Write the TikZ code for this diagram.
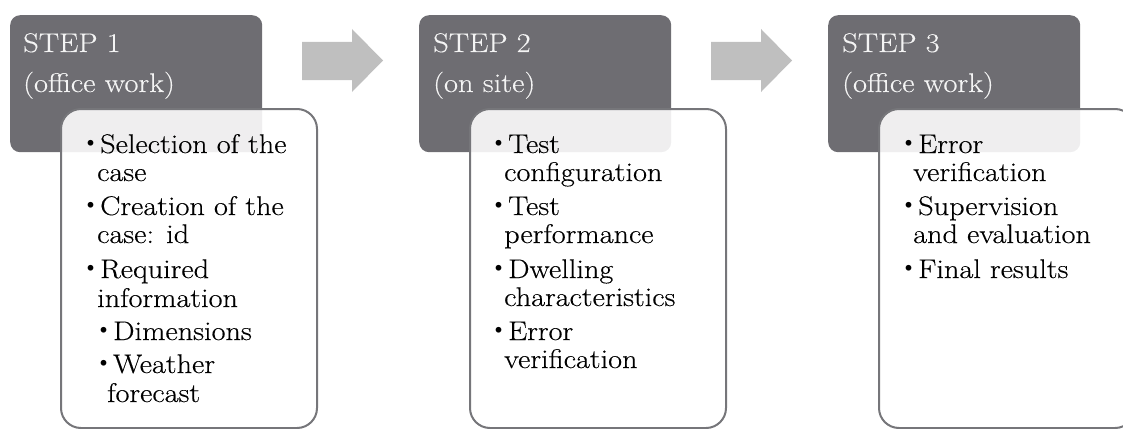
\documentclass[tikz,border=0pt]{standalone}
\usepackage{fontspec}
\setmainfont{Latin Modern Roman}[FakeStretch=1.12, FakeBold=0.3]
\newfontfamily\headfont{Latin Modern Roman}[FakeStretch=1.13, FakeBold=0.25]
\newfontfamily\cjk{Noto Sans CJK JP}
\definecolor{stepdark}{RGB}{110,109,114}
\definecolor{arrowgray}{RGB}{191,191,191}
\definecolor{bordergray}{RGB}{118,118,122}
\definecolor{headtext}{RGB}{244,244,244}
\newcommand\bul{\makebox[19pt][c]{\smash{\cjk ・}}}
\tikzset{
  stephead/.style={fill=stepdark, draw=none, rounded corners=10pt, anchor=north west, minimum width=252pt, minimum height=137pt, inner sep=0pt},
  stepbody/.style={fill=white, fill opacity=0.89, draw=bordergray, line width=2pt, rounded corners=20pt, anchor=north west, minimum width=256pt, minimum height=319pt, inner sep=0pt},
  headtxt/.style={text=headtext, font=\headfont\fontsize{27}{30}\selectfont, anchor=base west, inner sep=0pt},
  bodytxt/.style={text=black, font=\fontsize{27}{30}\selectfont, anchor=base west, inner sep=0pt},
  blockarrow/.style={fill=arrowgray, draw=none}
}
\begin{document}
\begin{tikzpicture}[x=1pt,y=-1pt]
\useasboundingbox (0,0) rectangle (1123,428);
\clip (0,0) rectangle (1123,428);
% block arrows
\fill[blockarrow] (302,42) -- (352,42) -- (352,29) -- (383,60.5) -- (352,92) -- (352,80) -- (302,80) -- cycle;
\fill[blockarrow] (711,42) -- (761,42) -- (761,29) -- (792,60.5) -- (761,92) -- (761,80) -- (711,80) -- cycle;
% step headers
\node[stephead] (h1) at (10,15) {};
\node[stephead] (h2) at (419,15) {};
\node[stephead] (h3) at (828,15) {};
\node[headtxt] (h1a) at (23,52) {STEP 1};
\node[headtxt] (h1b) at (23,92) {(office work)};
\node[headtxt] (h2a) at (433,52) {STEP 2};
\node[headtxt] (h2b) at (433,92) {(on site)};
\node[headtxt] (h3a) at (842,52) {STEP 3};
\node[headtxt] (h3b) at (842,92) {(office work)};
% content boxes
\node[stepbody] (b1) at (60,108) {};
\node[stepbody] (b2) at (469,108) {};
\node[stepbody] (b3) at (878,108) {};
% box 1 text
\node[bodytxt] (t11) at (81,153) {\bul Selection of the};
\node[bodytxt] (t12) at (97,181) {case};
\node[bodytxt] (t13) at (81,215) {\bul Creation of the};
\node[bodytxt] (t14) at (97,243) {case: id};
\node[bodytxt] (t15) at (81,278) {\bul Required};
\node[bodytxt] (t16) at (97,307) {information};
\node[bodytxt] (t17) at (94,340) {\bul Dimensions};
\node[bodytxt] (t18) at (94,373) {\bul Weather};
\node[bodytxt] (t19) at (107,402) {forecast};
% box 2 text
\node[bodytxt] (t21) at (489,153) {\bul Test};
\node[bodytxt] (t22) at (504,181) {configuration};
\node[bodytxt] (t23) at (489,215) {\bul Test};
\node[bodytxt] (t24) at (504,243) {performance};
\node[bodytxt] (t25) at (489,278) {\bul Dwelling};
\node[bodytxt] (t26) at (504,306) {characteristics};
\node[bodytxt] (t27) at (489,340) {\bul Error};
\node[bodytxt] (t28) at (504,368) {verification};
% box 3 text
\node[bodytxt] (t31) at (899,153) {\bul Error};
\node[bodytxt] (t32) at (913,181) {verification};
\node[bodytxt] (t33) at (899,215) {\bul Supervision};
\node[bodytxt] (t34) at (913,243) {and evaluation};
\node[bodytxt] (t35) at (899,278) {\bul Final results};
\end{tikzpicture}
\end{document}
